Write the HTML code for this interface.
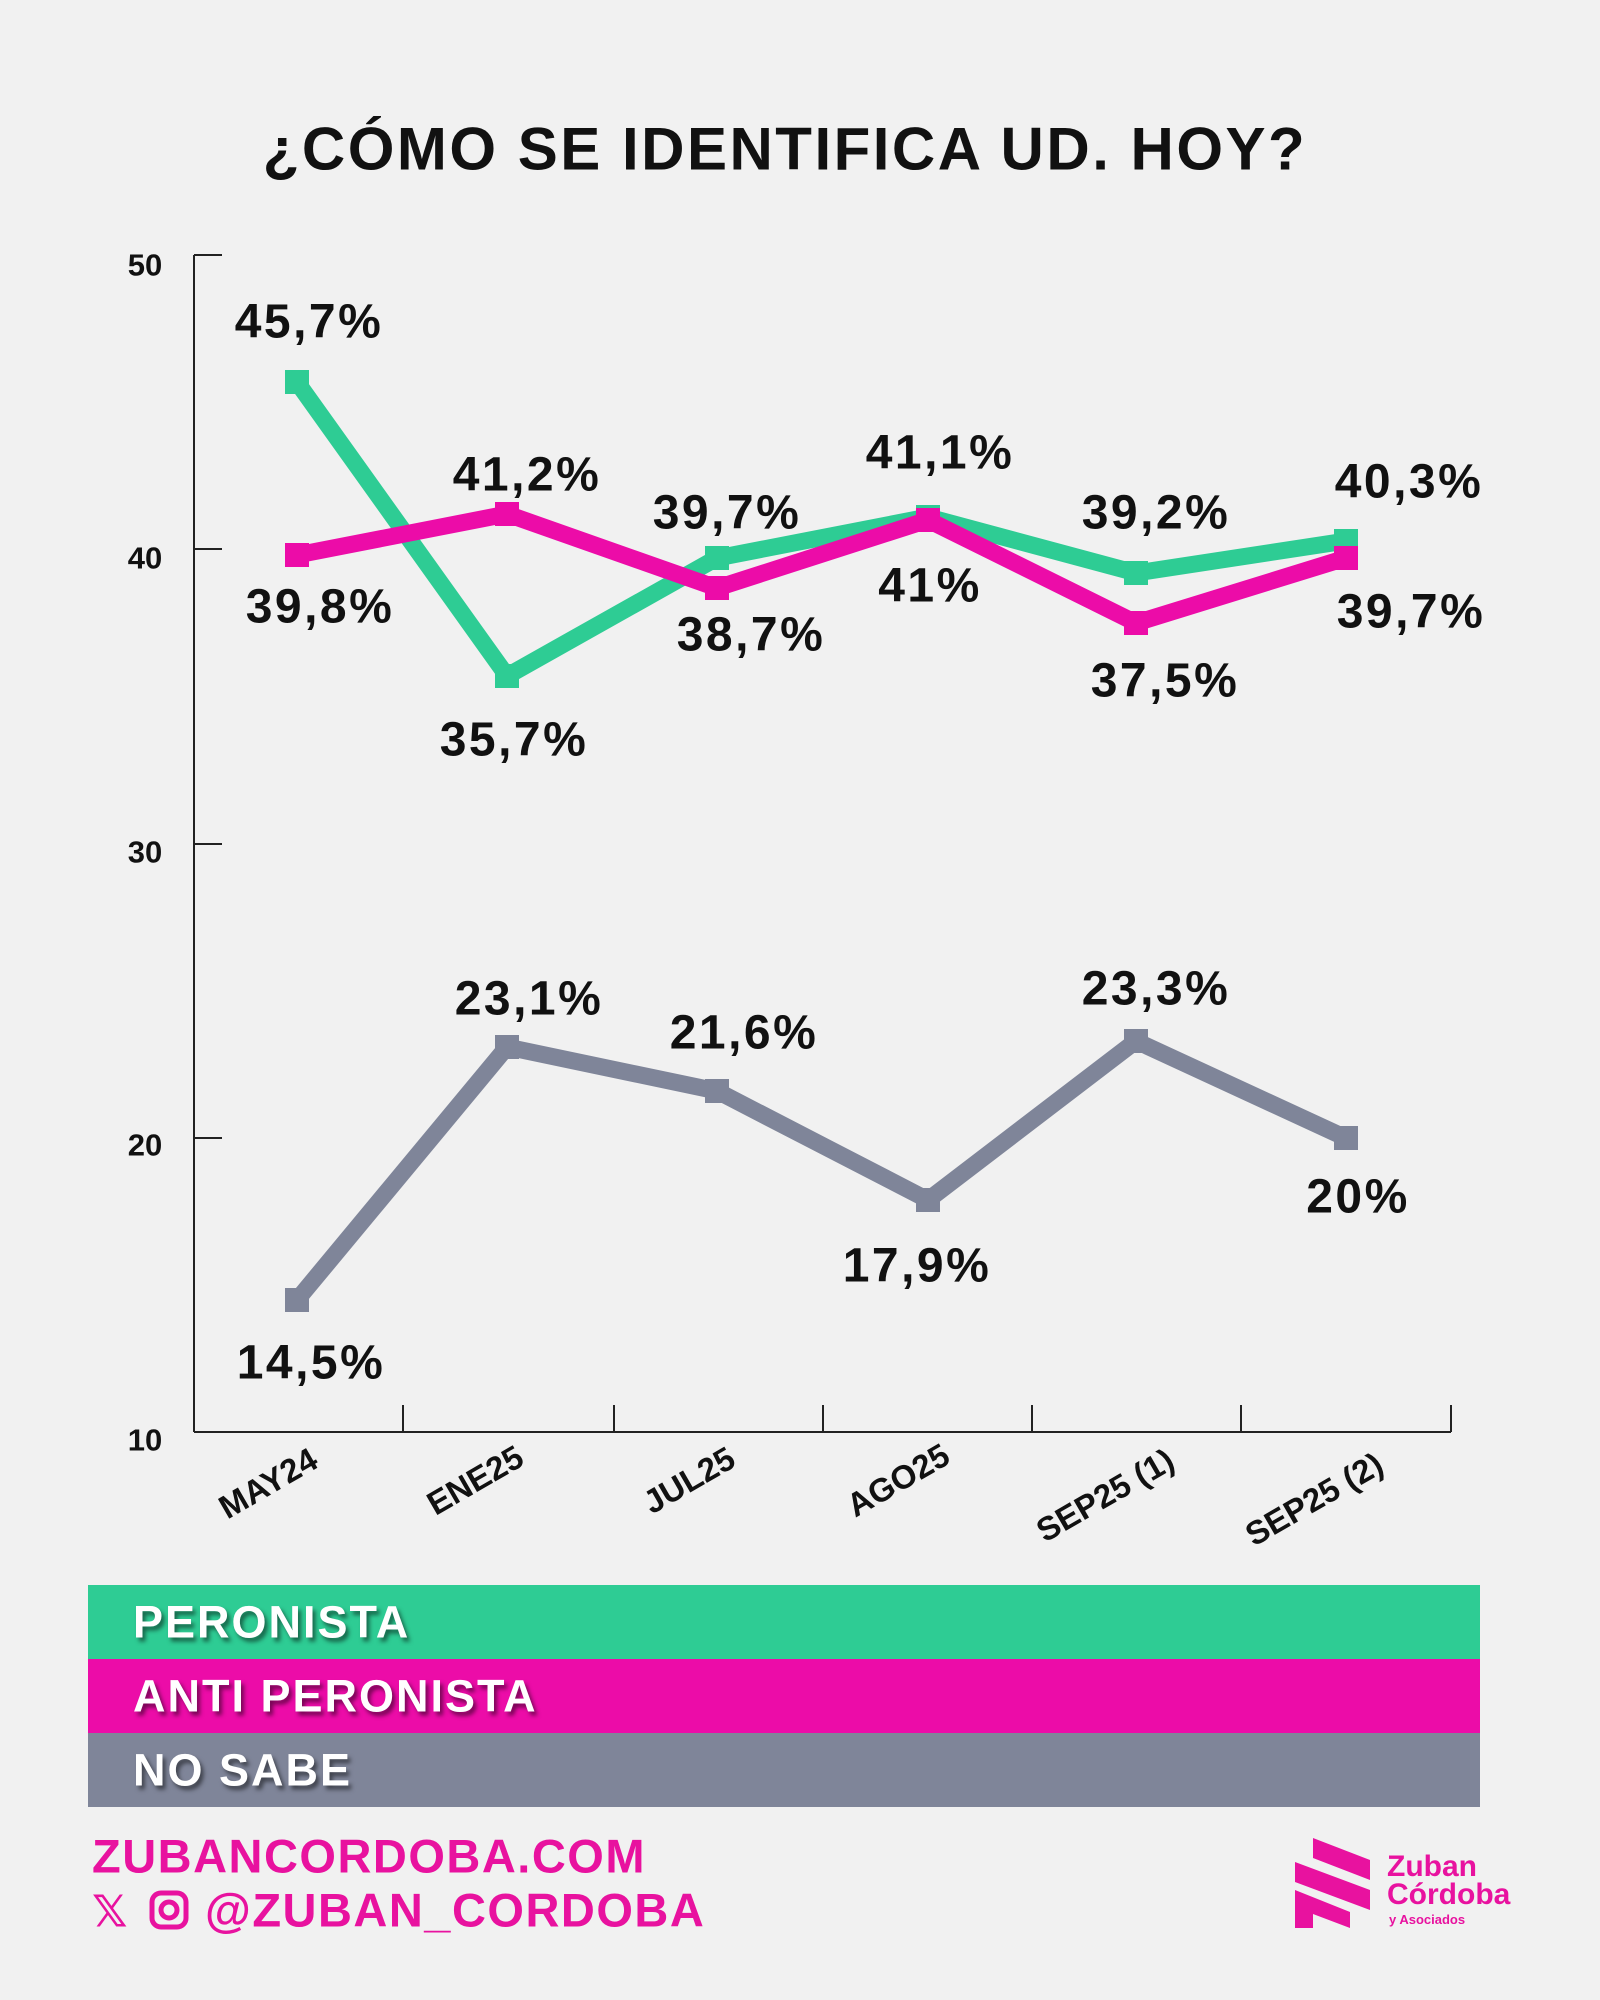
<!DOCTYPE html>
<html><head><meta charset="utf-8"><style>
html,body{margin:0;padding:0;background:#f1f1f1;}
svg{display:block}
text{font-family:"Liberation Sans","DejaVu Sans",sans-serif;font-weight:bold;}
</style></head><body>
<svg width="1600" height="2000" viewBox="0 0 1600 2000" xmlns="http://www.w3.org/2000/svg">
<rect width="1600" height="2000" fill="#f1f1f1"/>
<text x="785" y="149" font-size="60" text-anchor="middle" dominant-baseline="central" fill="#111" letter-spacing="2.5">¿CÓMO SE IDENTIFICA UD. HOY?</text>
<!-- axes -->
<g stroke="#222" stroke-width="2" fill="none">
<line x1="194" y1="255" x2="194" y2="1432"/>
<line x1="194" y1="1432" x2="1451" y2="1432"/>
<line x1="194" y1="255" x2="222" y2="255"/>
<line x1="194" y1="549" x2="222" y2="549"/>
<line x1="194" y1="844" x2="222" y2="844"/>
<line x1="194" y1="1138" x2="222" y2="1138"/>
<line x1="403" y1="1405" x2="403" y2="1432"/>
<line x1="614" y1="1405" x2="614" y2="1432"/>
<line x1="823" y1="1405" x2="823" y2="1432"/>
<line x1="1032" y1="1405" x2="1032" y2="1432"/>
<line x1="1241" y1="1405" x2="1241" y2="1432"/>
<line x1="1451" y1="1405" x2="1451" y2="1432"/>
</g>
<g font-size="31" fill="#111" text-anchor="middle" dominant-baseline="central">
<text x="145" y="265">50</text><text x="145" y="558">40</text><text x="145" y="852">30</text><text x="145" y="1145">20</text><text x="145" y="1440">10</text>
</g>
<g font-size="33" fill="#111" text-anchor="middle" dominant-baseline="central">
<text transform="translate(268,1483) rotate(-30)">MAY24</text>
<text transform="translate(475,1480) rotate(-30)">ENE25</text>
<text transform="translate(689,1480) rotate(-30)">JUL25</text>
<text transform="translate(898,1480) rotate(-30)">AGO25</text>
<text transform="translate(1105,1495) rotate(-30)">SEP25 (1)</text>
<text transform="translate(1314,1499) rotate(-30)">SEP25 (2)</text>
</g>
<!-- series -->
<g fill="none" stroke-width="17" stroke-linejoin="miter">
<polyline stroke="#2ecc94" points="297,382 507,676 717,558 928,517 1136,573 1346,541"/>
<polyline stroke="#ec0ca8" points="297,555 507,514 717,588 928,520 1136,623 1346,558"/>
<polyline stroke="#7f8599" points="297,1300 507,1047 717,1091 928,1200 1136,1041 1346,1138"/>
</g>
<g fill="#2ecc94"><rect x="285" y="370" width="24" height="24"/><rect x="495" y="664" width="24" height="24"/><rect x="705" y="546" width="24" height="24"/><rect x="916" y="505" width="24" height="24"/><rect x="1124" y="561" width="24" height="24"/><rect x="1334" y="529" width="24" height="24"/></g>
<g fill="#ec0ca8"><rect x="285" y="543" width="24" height="24"/><rect x="495" y="502" width="24" height="24"/><rect x="705" y="576" width="24" height="24"/><rect x="916" y="508" width="24" height="24"/><rect x="1124" y="611" width="24" height="24"/><rect x="1334" y="546" width="24" height="24"/></g>
<g fill="#7f8599"><rect x="285" y="1288" width="24" height="24"/><rect x="495" y="1035" width="24" height="24"/><rect x="705" y="1079" width="24" height="24"/><rect x="916" y="1188" width="24" height="24"/><rect x="1124" y="1029" width="24" height="24"/><rect x="1334" y="1126" width="24" height="24"/></g>
<g font-size="48" fill="#111" text-anchor="middle" dominant-baseline="central" letter-spacing="2.5">
<text x="309" y="322">45,7%</text><text x="320" y="607">39,8%</text>
<text x="527" y="475">41,2%</text><text x="514" y="740">35,7%</text>
<text x="727" y="513">39,7%</text><text x="751" y="635">38,7%</text>
<text x="940" y="453">41,1%</text><text x="930" y="586">41%</text>
<text x="1156" y="513">39,2%</text><text x="1165" y="681">37,5%</text>
<text x="1409" y="482">40,3%</text><text x="1411" y="612">39,7%</text>
<text x="529" y="999">23,1%</text><text x="744" y="1033">21,6%</text>
<text x="311" y="1363">14,5%</text><text x="917" y="1266">17,9%</text>
<text x="1156" y="989">23,3%</text><text x="1358" y="1197">20%</text>
</g>
<!-- legend -->
<rect x="88" y="1585" width="1392" height="74" fill="#2ecc94"/>
<rect x="88" y="1659" width="1392" height="74" fill="#ec0ca8"/>
<rect x="88" y="1733" width="1392" height="74" fill="#7f8599"/>
<g font-size="45" fill="#fff" dominant-baseline="central" letter-spacing="2" style="text-shadow:3px 4px 4px rgba(0,0,0,0.5)">
<text x="133" y="1622">PERONISTA</text>
<text x="133" y="1696">ANTI PERONISTA</text>
<text x="133" y="1770">NO SABE</text>
</g>
<!-- footer -->
<g fill="#e8129f" font-size="47" dominant-baseline="central" letter-spacing="1.5">
<text x="92" y="1856">ZUBANCORDOBA.COM</text>
<text x="205" y="1910">@ZUBAN_CORDOBA</text>
<text x="92" y="1912" font-size="44">𝕏</text>
</g>
<rect x="152" y="1893" width="34" height="34" rx="9" fill="none" stroke="#e8129f" stroke-width="5"/>
<circle cx="169" cy="1910" r="8" fill="none" stroke="#e8129f" stroke-width="5"/>
<g fill="#e8129f">
<polygon points="1313,1838 1370,1860 1370,1880 1313,1858"/>
<polygon points="1295,1862 1370,1890 1370,1910 1295,1882"/>
<polygon points="1295,1890 1350,1912 1350,1928 1313,1914 1313,1928 1295,1928"/>
<text x="1387" y="1876" font-size="30">Zuban</text>
<text x="1387" y="1904" font-size="30">Córdoba</text>
<text x="1389" y="1924" font-size="13" font-weight="normal">y Asociados</text>
</g>
</svg>
</body></html>
